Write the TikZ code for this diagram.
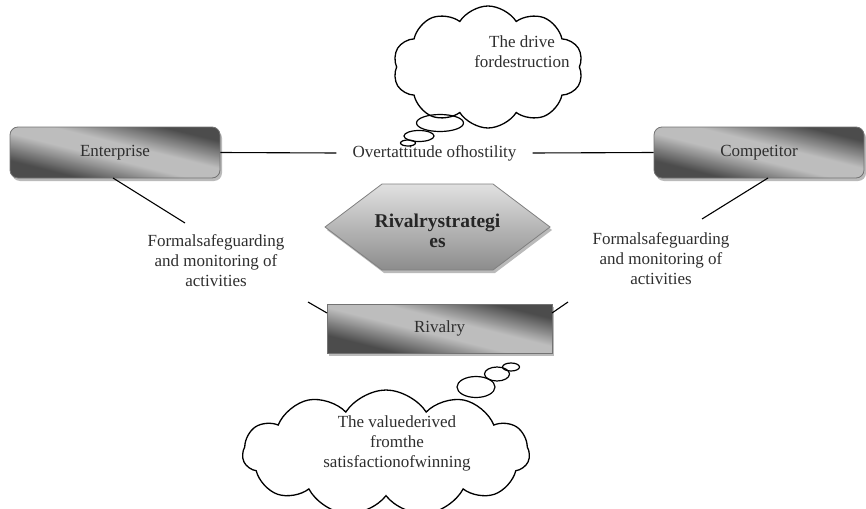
\documentclass[tikz,border=0pt]{standalone}
\usepackage{fontspec}
\setmainfont{Liberation Serif}
\usetikzlibrary{shapes.symbols,shapes.geometric,shadows}
\definecolor{boxdark}{gray}{0.30}
\definecolor{boxlight}{gray}{0.74}
\pgfdeclarehorizontalshading{boxshade}{100bp}{color(0bp)=(boxdark); color(30bp)=(boxdark); color(46bp)=(boxlight); color(56bp)=(boxlight); color(72bp)=(boxdark); color(100bp)=(boxdark)}
\begin{document}
\begin{tikzpicture}[x=1pt,y=-1pt,
  txt/.style={font=\fontsize{17}{20}\selectfont, text=black!82, align=center, inner sep=0pt},
  gbox/.style={txt, draw=black!55, line width=0.8pt, shading=boxshade, shading angle=76,
     minimum width=210pt, minimum height=51pt,
     drop shadow={shadow xshift=2pt, shadow yshift=-3pt, fill=black!45, opacity=0.6}},
  hexstyle/.style={draw=black!50, line width=0.8pt, top color=black!12, bottom color=black!45,
     drop shadow={shadow xshift=2pt, shadow yshift=-3pt, fill=black!45, opacity=0.6}},
  conn/.style={line width=1.1pt, black},
  cloudstyle/.style={cloud, draw, line width=1.3pt, cloud puffs=10, cloud puff arc=115, aspect=1.6, inner sep=0pt},
  bubble/.style={ellipse, draw, line width=1.2pt, inner sep=0pt}
]
\useasboundingbox (0,0) rectangle (866,508);

% boxes
\node[gbox, rounded corners=8pt] (ent) at (115,152.5) {Enterprise};
\node[gbox, rounded corners=8pt] (comp) at (759,152.5) {Competitor};
\node[gbox, minimum width=225pt, minimum height=49pt] (riv) at (439.5,328.5) {Rivalry};

% hexagon
\path[hexstyle] (325,227) coordinate (h1) -- (382,184) coordinate (h2) -- (493,184) coordinate (h3)
   -- (550,227) coordinate (h4) -- (493,270) coordinate (h5) -- (382,270) coordinate (h6) -- cycle;
\node[txt, font=\fontsize{19.5}{20}\selectfont\bfseries, text=black!85] (strat) at (437.5,231) {Rivalrystrategi\\es};

% top text and connectors
\node[txt, inner xsep=16pt] (host) at (434.5,153) {Overtattitude ofhostility};
\draw[conn] (ent.east) -- (host.west);
\draw[conn] (host.east) -- (comp.west);

% side texts
\node[txt] (lt) at (216,261) {Formalsafeguarding\\and monitoring of\\activities};
\node[txt] (rt) at (661,259) {Formalsafeguarding\\and monitoring of\\activities};

\coordinate (a1) at (113,178);
\coordinate (a2) at (185,223);
\coordinate (a3) at (308,302);
\coordinate (a4) at (327,313);
\coordinate (b1) at (768,178);
\coordinate (b2) at (702,219);
\coordinate (b3) at (568,302);
\coordinate (b4) at (552,313);
\draw[conn] (a1) -- (a2);
\draw[conn] (a3) -- (a4);
\draw[conn] (b1) -- (b2);
\draw[conn] (b3) -- (b4);

% top cloud
\node[cloudstyle, minimum width=190pt, minimum height=122pt] (c1) at (488,67) {};
\node[txt] (c1t) at (522,52) {The drive\\fordestruction};
\node[bubble, minimum width=47pt, minimum height=17pt] (t1) at (440,123) {};
\node[bubble, minimum width=30pt, minimum height=11pt] (t2) at (419,136) {};
\node[bubble, minimum width=15pt, minimum height=6pt] (t3) at (408,143) {};

% bottom cloud
\node[cloudstyle, cloud puffs=11, minimum width=287pt, minimum height=126pt] (c2) at (386,453) {};
\node[txt] (c2t) at (397,443) {The valuederived\\fromthe\\satisfactionofwinning};
\node[bubble, minimum width=38pt, minimum height=21pt] (u1) at (476,387) {};
\node[bubble, minimum width=25pt, minimum height=14pt] (u2) at (497,374) {};
\node[bubble, minimum width=17pt, minimum height=8pt] (u3) at (511,367) {};
\end{tikzpicture}
\end{document}
